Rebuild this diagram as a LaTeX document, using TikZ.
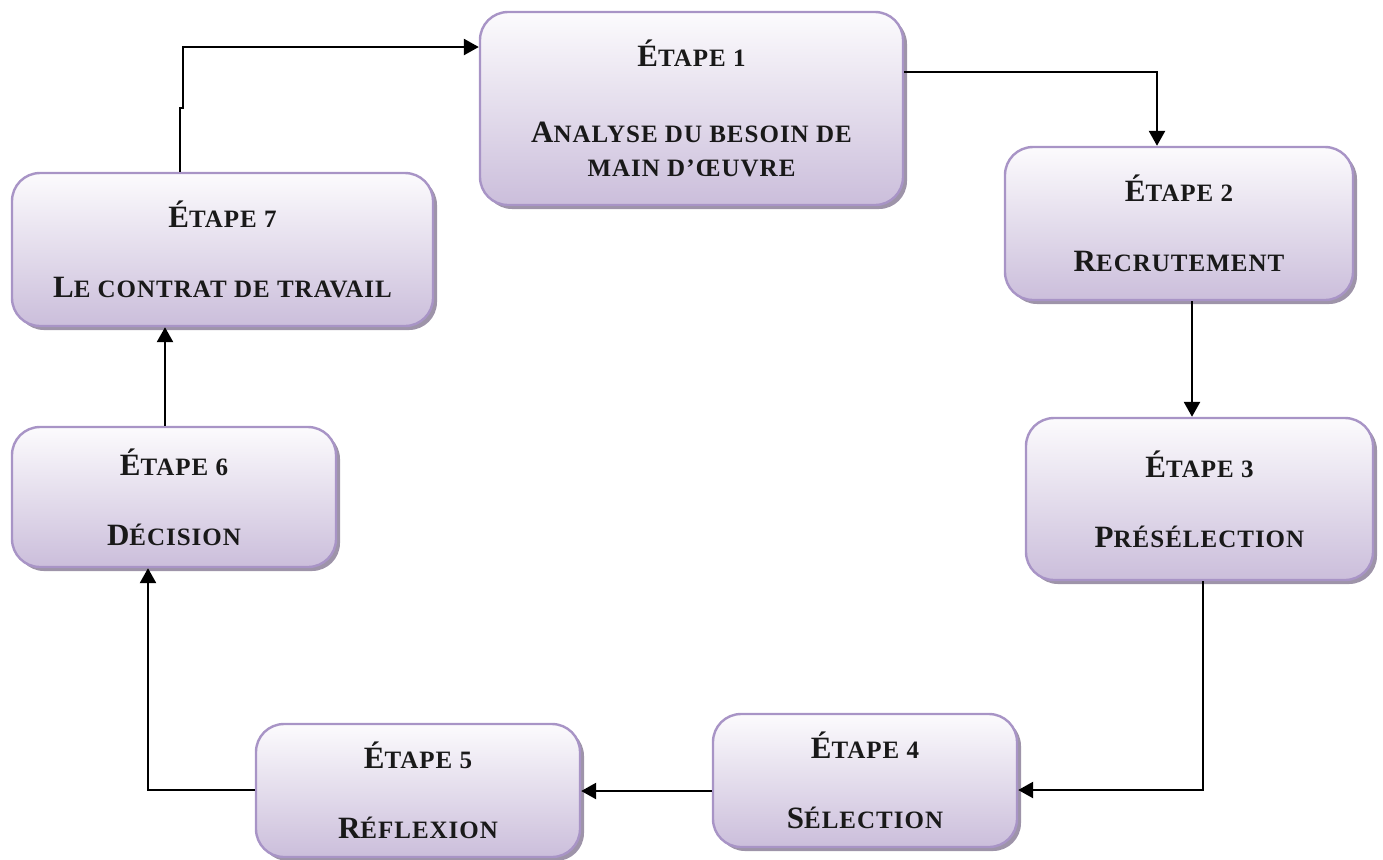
\documentclass[tikz,border=0pt]{standalone}
\usepackage{fontspec}
\newfontfamily\algfont{Liberation Serif}[LetterSpace=4]
\usetikzlibrary{arrows.meta,shadows}
\definecolor{boxtop}{HTML}{FCFBFD}
\definecolor{boxbot}{HTML}{CBBEDB}
\definecolor{boxline}{HTML}{A894C6}
\definecolor{shadowc}{HTML}{9E94A9}
\newcommand\Bg[1]{{\fontsize{15.5pt}{17pt}\selectfont #1}}
\tikzset{
  stage/.style={draw=boxline, line width=1.2pt, rounded corners=14pt,
    top color=boxtop, bottom color=boxbot,
    drop shadow={shadow xshift=2pt, shadow yshift=-2pt, fill=shadowc, opacity=1},
    align=center, font=\algfont\bfseries\fontsize{12.5pt}{17pt}\selectfont,
    text=black!90, inner sep=0pt},
  link/.style={line width=1.3pt, -{Triangle[length=7.5pt,width=8pt]}}
}
\begin{document}
\begin{tikzpicture}[x=0.5pt,y=-0.5pt]
\useasboundingbox (0,0) rectangle (1383,859);
\node[stage, minimum width=211.5pt, minimum height=96.5pt] (b1) at (691.5,108.5)
  {\Bg{É}TAPE 1\\[21pt]\Bg{A}NALYSE DU BESOIN DE\\MAIN D’ŒUVRE};
\node[stage, minimum width=174pt, minimum height=76.5pt] (b2) at (1179,223.5)
  {\Bg{É}TAPE 2\\[18pt]\Bg{R}ECRUTEMENT};
\node[stage, minimum width=173.5pt, minimum height=81pt] (b3) at (1199.5,499)
  {\Bg{É}TAPE 3\\[18pt]\Bg{P}RÉSÉLECTION};
\node[stage, minimum width=152pt, minimum height=66.5pt] (b4) at (865,780.5)
  {\Bg{É}TAPE 4\\[18pt]\Bg{S}ÉLECTION};
\node[stage, minimum width=162pt, minimum height=66.5pt] (b5) at (418,790.5)
  {\Bg{É}TAPE 5\\[18pt]\Bg{R}ÉFLEXION};
\node[stage, minimum width=162pt, minimum height=70pt] (b6) at (174,497)
  {\Bg{É}TAPE 6\\[18pt]\Bg{D}ÉCISION};
\node[stage, minimum width=210.5pt, minimum height=76.5pt] (b7) at (222.5,249.5)
  {\Bg{É}TAPE 7\\[18pt]\Bg{L}E CONTRAT DE TRAVAIL};

\draw[link] (b7.north -| 180,0) -- (180,108) -- (183,108) -- (183,47) -- (b1.west |- 0,47);
\draw[link] (b1.east |- 0,72) -| (b2.north -| 1157,0);
\draw[link] (b2.south -| 1192,0) -- (b3.north -| 1192,0);
\draw[link] (b3.south -| 1203,0) |- (b4.east |- 0,790);
\draw[link] (b4.west |- 0,791) -- (b5.east |- 0,791);
\draw[link] (b5.west |- 0,790) -| (b6.south -| 148,0);
\draw[link] (b6.north -| 165,0) -- (b7.south -| 165,0);
\end{tikzpicture}
\end{document}
